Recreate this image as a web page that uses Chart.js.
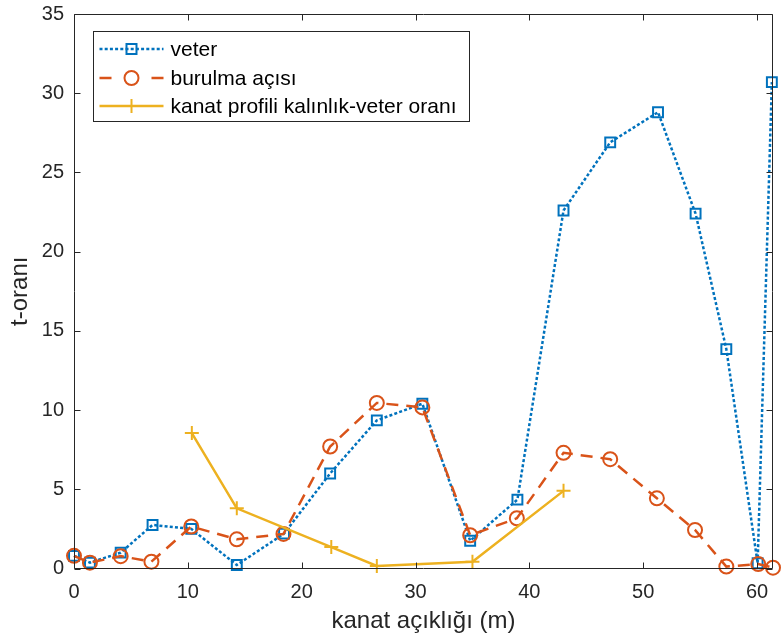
<!DOCTYPE html>
<html>
<head>
<meta charset="utf-8">
<script src="https://cdn.jsdelivr.net/npm/chart.js@4/dist/chart.umd.min.js"></script>
<style>
  html, body { margin: 0; padding: 0; background: #ffffff; }
  #wrap { width: 782px; height: 641px; }
</style>
</head>
<body>
<div id="wrap"><canvas id="c" width="782" height="641"></canvas></div>
<script>
// ---- data ----
const veterX   = [0, 1.4, 4.1, 6.9, 10.3, 14.3, 18.45, 22.5, 26.6, 30.6, 34.8, 38.95, 43.0, 47.1, 51.3, 54.6, 57.3, 60.05, 61.3];
const veterY   = [0.8, 0.37, 1.0, 2.75, 2.5, 0.22, 2.2, 6.0, 9.35, 10.4, 1.75, 4.35, 22.6, 26.9, 28.8, 22.4, 13.85, 0.33, 30.7];
const burulmaX = [0, 1.4, 4.1, 6.8, 10.3, 14.3, 18.4, 22.5, 26.6, 30.6, 34.8, 38.9, 43.0, 47.1, 51.2, 54.55, 57.3, 60.1, 61.4];
const burulmaY = [0.8, 0.37, 0.78, 0.43, 2.65, 1.84, 2.18, 7.7, 10.45, 10.17, 2.1, 3.17, 7.3, 6.9, 4.43, 2.43, 0.12, 0.28, 0.05];
const kanatX   = [10.35, 14.3, 22.6, 26.6, 35.0, 43.0];
const kanatY   = [8.55, 3.8, 1.35, 0.16, 0.43, 4.9];

const seriesNames = ['veter', 'burulma açısı', 'kanat profili kalınlık-veter oranı'];
const xTitle = 'kanat açıklığı (m)';
const yTitle = 't-oranı';
const xTicks = [0, 10, 20, 30, 40, 50, 60];
const yTicks = [0, 5, 10, 15, 20, 25, 30, 35];

const BLUE = '#0072BD', ORANGE = '#D95319', YELLOW = '#EDB120', AX = '#262626';
const FONT = "'Liberation Sans', Arial, Helvetica, sans-serif";

function pts(xs, ys) { return xs.map((x, i) => ({x: x, y: ys[i]})); }

const styles = [
  {color: BLUE, dash: [3, 2.2], marker: 'rect'},
  {color: ORANGE, dash: [12, 8], marker: 'circle'},
  {color: YELLOW, dash: [], marker: 'cross'}
];

function drawMarker(ctx, type, x, y, color) {
  ctx.save();
  ctx.setLineDash([]);
  ctx.strokeStyle = color;
  ctx.lineWidth = 2;
  ctx.beginPath();
  if (type === 'rect') {
    ctx.rect(x - 5, y - 5, 10, 10);
  } else if (type === 'circle') {
    ctx.arc(x, y, 7, 0, Math.PI * 2);
  } else {
    ctx.moveTo(x - 7, y); ctx.lineTo(x + 7, y);
    ctx.moveTo(x, y - 7); ctx.lineTo(x, y + 7);
  }
  ctx.stroke();
  ctx.restore();
}

const framePlugin = {
  id: 'frame',
  afterDraw(chart) {
    const ctx = chart.ctx;
    const a = chart.chartArea;
    const xs = chart.scales.x, ys = chart.scales.y;
    ctx.save();
    ctx.strokeStyle = AX;
    ctx.lineWidth = 1;
    ctx.setLineDash([]);
    const L = Math.round(a.left) + 0.5, R = Math.round(a.right) - 0.5;
    const T = Math.round(a.top) + 0.5, B = Math.round(a.bottom) - 0.5;
    ctx.beginPath();
    ctx.rect(L, T, R - L, B - T);
    // inner ticks
    const tl = 6;
    xTicks.forEach(v => {
      const px = Math.round(xs.getPixelForValue(v)) + 0.5;
      ctx.moveTo(px, B); ctx.lineTo(px, B - tl);
      ctx.moveTo(px, T); ctx.lineTo(px, T + tl);
    });
    yTicks.forEach(v => {
      const py = Math.round(ys.getPixelForValue(v)) + 0.5;
      ctx.moveTo(L, py); ctx.lineTo(L + tl, py);
      ctx.moveTo(R, py); ctx.lineTo(R - tl, py);
    });
    ctx.stroke();

    // legend
    const bx = Math.round(a.left + 19) + 0.5, by = Math.round(a.top + 17) + 0.5;
    const bw = 376, bh = 90;
    ctx.fillStyle = '#ffffff';
    ctx.fillRect(bx, by, bw, bh);
    ctx.strokeStyle = AX;
    ctx.strokeRect(bx, by, bw, bh);
    const rowY = [by + 17.5, by + 46.5, by + 74.5];
    const x0 = bx + 6, x1 = bx + 70, xm = (x0 + x1) / 2;
    ctx.font = "21px " + FONT;
    ctx.textBaseline = 'middle';
    ctx.textAlign = 'left';
    styles.forEach((s, i) => {
      const y = rowY[i];
      ctx.save();
      ctx.strokeStyle = s.color;
      ctx.lineWidth = 2.5;
      ctx.setLineDash(s.dash);
      ctx.beginPath();
      if (s.marker === 'circle') {
        ctx.moveTo(x0, y); ctx.lineTo(x0 + 12, y);
        ctx.moveTo(x1 - 12, y); ctx.lineTo(x1, y);
      } else {
        ctx.moveTo(x0, y); ctx.lineTo(x1, y);
      }
      ctx.stroke();
      ctx.restore();
      drawMarker(ctx, s.marker, xm, y, s.color);
      ctx.fillStyle = '#000000';
      ctx.fillText(seriesNames[i], bx + 77, y + 1);
    });
    ctx.restore();
  }
};

const datasets = [
  {label: seriesNames[0], data: pts(veterX, veterY)},
  {label: seriesNames[1], data: pts(burulmaX, burulmaY)},
  {label: seriesNames[2], data: pts(kanatX, kanatY)}
].map((d, i) => Object.assign(d, {
  borderColor: styles[i].color,
  backgroundColor: 'rgba(0,0,0,0)',
  borderWidth: 2.5,
  borderDash: styles[i].dash,
  pointStyle: styles[i].marker,
  pointRadius: 7,
  pointBorderColor: styles[i].color,
  pointBackgroundColor: 'rgba(0,0,0,0)',
  pointBorderWidth: 2,
  pointHoverRadius: 7,
  tension: 0,
  fill: false,
  clip: 12,
  order: 3 - i
}));

new Chart(document.getElementById('c'), {
  type: 'line',
  data: {datasets: datasets},
  plugins: [framePlugin],
  options: {
    responsive: false,
    animation: false,
    events: [],
    layout: {padding: {left: 0, right: 1, top: 14, bottom: 0}},
    plugins: {legend: {display: false}, tooltip: {enabled: false}},
    scales: {
      x: {
        type: 'linear',
        min: 0, max: 61.4,
        afterFit(s) { s.height = 72.5; s.paddingLeft = 0; s.paddingRight = 0; },
        afterBuildTicks(s) { s.ticks = xTicks.map(v => ({value: v})); },
        ticks: {stepSize: 10, includeBounds: false, padding: 12, color: AX, font: {size: 20, family: FONT}, maxRotation: 0, autoSkip: false},
        grid: {display: false, drawTicks: false},
        border: {display: false},
        title: {display: true, text: xTitle, color: AX, font: {size: 24, family: FONT}, padding: {top: 0, bottom: 5}}
      },
      y: {
        type: 'linear',
        min: 0, max: 35,
        afterFit(s) { s.width = 74; s.paddingTop = 0; s.paddingBottom = 0; },
        afterBuildTicks(s) { s.ticks = yTicks.map(v => ({value: v})); },
        ticks: {stepSize: 5, includeBounds: false, padding: 10, color: AX, font: {size: 20, family: FONT}, autoSkip: false},
        grid: {display: false, drawTicks: false},
        border: {display: false},
        title: {display: true, text: yTitle, color: AX, font: {size: 24, family: FONT}, padding: {top: 6, bottom: 0}}
      }
    }
  }
});
</script>
</body>
</html>
